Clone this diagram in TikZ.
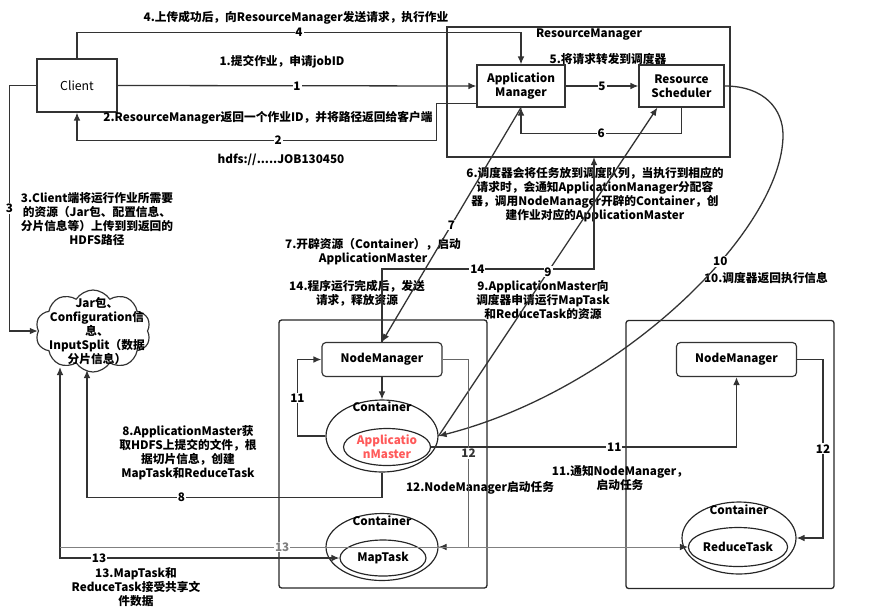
\documentclass[tikz,border=0pt]{standalone}
\usepackage{fontspec}
\setmainfont{Noto Sans CJK SC}
\usepackage{tikz}
\usetikzlibrary{shapes.geometric, shapes.symbols, positioning}
\usetikzlibrary{arrows.meta}
\tikzset{>={Latex[width=2mm,length=2.4mm]}}
\definecolor{amred}{HTML}{FF5A5A}

\begin{document}
\begin{tikzpicture}[x=0.3mm, y=-0.3mm, font=\fontsize{10}{12}\selectfont\bfseries,
  box/.style={rectangle, draw=black!80, line width=1pt, inner sep=0pt},
  nmbox/.style={rectangle, rounded corners=1.2mm, draw=black!80, line width=1pt, minimum width=36mm, minimum height=10.2mm},
  nodearea/.style={rectangle, rounded corners=0.8mm, draw=black!85, line width=1.1pt, minimum width=62.4mm, minimum height=80.4mm},
  cont/.style={ellipse, draw=black!85, line width=1pt, inner sep=0pt},
  conn/.style={draw=black!80, line width=1.1pt},
  lbl/.style={fill=white, inner sep=0.8pt},
  note/.style={align=center, inner sep=0pt}]
    \useasboundingbox (0,0) rectangle (884,612);

    %Nodes
    \node[box, minimum width=24mm, minimum height=15.9mm, font=\fontsize{10.5}{12}\selectfont\mdseries](client) at (77,85.5){Client};
    \node[box, minimum width=84.9mm, minimum height=39mm](rm) at (588.5,92){};
    \node[note](rmlabel) at (589,35){ResourceManager};
    \node[box, minimum width=26.4mm, minimum height=12.6mm, align=center](am) at (521,86){Application\\Manager};
    \node[box, minimum width=25.5mm, minimum height=12.6mm, align=center](rs) at (681.5,86){Resource\\Scheduler};
    \node[cloud, draw=black!80, line width=1pt, cloud puffs=10, cloud puff arc=115, aspect=1.4, minimum width=34.5mm, minimum height=24.6mm, inner sep=0pt](cloud) at (93,331){};
    \node[note](cloudtxt) at (97,331){Jar包、\\Configuration信\\息、\\InputSplit（数据\\分片信息）};

    \node[nodearea](leftnode) at (383,454){};
    \node[nodearea](rightnode) at (730,454.5){};
    \node[nmbox](nml) at (382,359.5){NodeManager};
    \node[nmbox](nmr) at (736.5,359.5){NodeManager};
    \node[cont, minimum width=33.6mm, minimum height=21.6mm](amc) at (382,436){};
    \node[note](amclbl) at (382,407){Container};
    \node[cont, minimum width=26.1mm, minimum height=11.1mm, align=center, text=amred](amm) at (387,447){Applicatio\\nMaster};
    \node[cont, minimum width=33.6mm, minimum height=20.1mm](mapc) at (382,547){};
    \node[note](mapclbl) at (382,521){Container};
    \node[cont, minimum width=25.8mm, minimum height=10.8mm](mapm) at (383,558){MapTask};
    \node[cont, minimum width=34.2mm, minimum height=21.6mm](redc) at (739,538){};
    \node[note](redclbl) at (739,510){Container};
    \node[cont, minimum width=28.5mm, minimum height=11.7mm](redm) at (738,547){ReduceTask};

    \coordinate (c14) at (594,157);
    \coordinate (cl13) at (60,367);
    \coordinate (c13) at (60,547);
    \coordinate (cl8) at (87,370);

    %Texts
    \node[note](t4) at (296,18){4.上传成功后，向ResourceManager发送请求，执行作业};
    \node[note](t1) at (282,62){1.提交作业，申请jobID};
    \node[note](t2) at (268,118){2.ResourceManager返回一个作业ID，并将路径返回给客户端};
    \node[note](thdfs) at (281,160){hdfs://.....JOB130450};
    \node[note](t3) at (97,219){3.Client端将运行作业所需要\\的资源（Jar包、配置信息、\\分片信息等）上传到到返回的\\HDFS路径};
    \node[note](t5) at (608,59){5.将请求转发到调度器};
    \node[note](t6) at (595,195){6.调度器会将任务放到调度队列，当执行到相应的\\请求时，会通知ApplicationManager分配容\\器，调用NodeManager开辟的Container，创\\建作业对应的ApplicationMaster};
    \node[note](t7) at (373,252){7.开辟资源（Container），启动\\ApplicationMaster};
    \node[note](t14) at (357,293){14.程序运行完成后，发送\\请求，释放资源};
    \node[note](t9) at (543,300){9.ApplicationMaster向\\调度器申请运行MapTask\\和ReduceTask的资源};
    \node[note](t10) at (766,278){10.调度器返回执行信息};
    \node[note](t8) at (188,453){8.ApplicationMaster获\\取HDFS上提交的文件，根\\据切片信息，创建\\MapTask和ReduceTask};
    \node[note](t11) at (620,478){11.通知NodeManager，\\启动任务};
    \node[note](t12) at (480,488){12.NodeManager启动任务};
    \node[note](t13) at (136,587){13.MapTask和\\ReduceTask接受共享文\\件数据};

    %Lines
    \draw[conn,->] (client.north) -- ++(0,-26) -| node[lbl,pos=0.25]{4} (am.north);
    \draw[conn,->] (client.east) -- node[lbl]{1} (am.west);
    \draw[conn,->] ([yshift=1.2mm]am.south west) -- ++(-40,0) -- ++(0,37) -| node[lbl,pos=0.22]{2} (client.south);
    \draw[conn,->] (client.west) -- ++(-27,0) |- node[lbl,pos=0.25]{3} (cloud.west);
    \draw[conn,->] (am) -- node[lbl]{5} (rs);
    \draw[conn,->] (rs.south) -- ++(0,26) -| node[lbl,pos=0.25]{6} (am.south);
    \draw[conn,->] (am.south) -- node[lbl]{7} (nml.north);
    \draw[conn,->] (nml) -- (amc);
    \draw[conn,->] (nml.north) -- ++(0,-73) -| node[lbl,pos=0.225]{14} (c14);
    \draw[conn,->] (amc.east) -- node[lbl]{9} ([xshift=5.7mm]rs.south west);
    \draw[conn,->] (rs.east) .. controls (765,86) and (783,110) .. (783,135) .. controls (783,230) and (620,390) .. node[lbl,pos=0.38]{10} (amc.east);
    \draw[conn,->] (amc.west) -- ++(-28,0) |- node[lbl,pos=0.25]{11} (nml.west);
    \draw[conn,->] (amm.east) -| node[lbl,pos=0.3]{11} (nmr.south);
    \draw[conn,black!60,line width=0.8pt,-{Latex[width=2mm,length=2.4mm,color=black!80]}] (nml.east) -- ++(26,0) |- node[lbl,pos=0.25,text=black!80]{12} (mapc.east);
    \draw[conn,->] (nmr.east) -- ++(26,0) |- node[lbl,pos=0.25]{12} (redc.east);
    \draw[conn,->] (amc.south) -- ++(0,25) -| node[lbl,pos=0.34]{8} (cl8);
    \draw[conn,<->] (cl13) |- node[lbl,pos=0.57]{13} (mapm.west);
    \draw[conn,black!50,line width=0.7pt,-{Latex[width=2mm,length=2.4mm,color=black!80]}] (c13) -- node[lbl,pos=0.354]{13} (redm.west);

\end{tikzpicture}
\end{document}
